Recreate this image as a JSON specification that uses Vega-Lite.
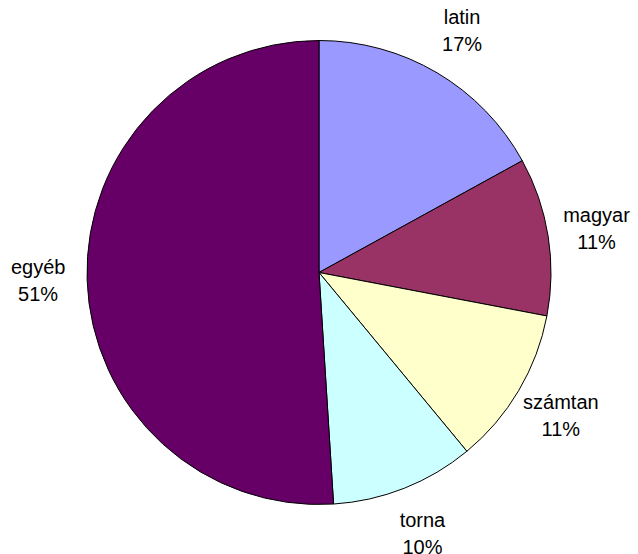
{
  "$schema": "https://vega.github.io/schema/vega-lite/v6.json",
  "width": 638,
  "height": 554,
  "autosize": {"type": "fit", "contains": "padding"},
  "padding": 0,
  "background": "white",
  "data": {
    "values": [
      {"i": 1, "name": "latin", "value": 17, "pct": "17%"},
      {"i": 2, "name": "magyar", "value": 11, "pct": "11%"},
      {"i": 3, "name": "számtan", "value": 11, "pct": "11%"},
      {"i": 4, "name": "torna", "value": 10, "pct": "10%"},
      {"i": 5, "name": "egyéb", "value": 51, "pct": "51%"}
    ]
  },
  "encoding": {
    "theta": {"field": "value", "type": "quantitative", "stack": true},
    "order": {"field": "i", "type": "quantitative"}
  },
  "layer": [
    {
      "mark": {"type": "arc", "outerRadius": 232, "stroke": "black", "strokeWidth": 1},
      "encoding": {
        "color": {
          "field": "name",
          "type": "nominal",
          "scale": {
            "domain": ["latin", "magyar", "számtan", "torna", "egyéb"],
            "range": ["#9999FF", "#993366", "#FFFFCC", "#CCFFFF", "#660066"]
          },
          "legend": null
        }
      }
    },
    {
      "mark": {"type": "text", "radius": 281, "dy": -13, "font": "Liberation Sans", "fontSize": 20, "color": "black"},
      "encoding": {"text": {"field": "name"}}
    },
    {
      "mark": {"type": "text", "radius": 281, "dy": 14, "font": "Liberation Sans", "fontSize": 20, "color": "black"},
      "encoding": {"text": {"field": "pct"}}
    }
  ],
  "config": {"view": {"stroke": null}}
}
